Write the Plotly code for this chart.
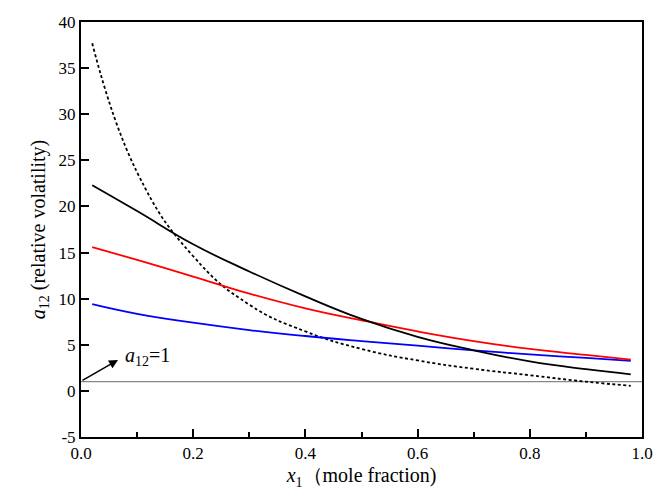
import plotly.graph_objects as go

x = [0.02, 0.1, 0.2, 0.3, 0.4, 0.5, 0.6, 0.7, 0.8, 0.9, 0.98]
black = [22.3, 19.5, 15.9, 12.95, 10.25, 7.8, 5.85, 4.4, 3.2, 2.35, 1.8]
red = [15.6, 14.2, 12.4, 10.55, 8.95, 7.65, 6.45, 5.4, 4.55, 3.9, 3.4]
blue = [9.4, 8.35, 7.4, 6.6, 5.95, 5.4, 4.9, 4.4, 3.95, 3.57, 3.25]
dotted = [37.7, 23.7, 14.6, 9.35, 6.45, 4.55, 3.3, 2.4, 1.7, 1.0, 0.55]

xticks = [0.0, 0.2, 0.4, 0.6, 0.8, 1.0]
yticks = [-5, 0, 5, 10, 15, 20, 25, 30, 35, 40]

font = "Times New Roman, Liberation Serif, serif"

fig = go.Figure()
fig.add_trace(go.Scatter(x=[0, 1], y=[1, 1], mode="lines",
                         line=dict(color="#888888", width=1.2), showlegend=False))
fig.add_trace(go.Scatter(x=x, y=dotted, mode="lines",
                         line=dict(color="black", width=1.8, dash="3px,2.5px",
                                   shape="spline", smoothing=1.3), showlegend=False))
fig.add_trace(go.Scatter(x=x, y=blue, mode="lines",
                         line=dict(color="#0000ff", width=1.8, shape="spline", smoothing=1.3),
                         showlegend=False))
fig.add_trace(go.Scatter(x=x, y=red, mode="lines",
                         line=dict(color="#ff0000", width=1.8, shape="spline", smoothing=1.3),
                         showlegend=False))
fig.add_trace(go.Scatter(x=x, y=black, mode="lines",
                         line=dict(color="black", width=1.8, shape="spline", smoothing=1.3),
                         showlegend=False))

fig.add_annotation(x=0.066, y=3.35, ax=0.0, ay=1.05, axref="x", ayref="y",
                   xref="x", yref="y", text="", showarrow=True,
                   arrowhead=2, arrowsize=1.2, arrowwidth=1.5, arrowcolor="black")
fig.add_annotation(x=0.075, y=3.7, xref="x", yref="y", xanchor="left",
                   text="<i>a</i><sub>12</sub>=1", showarrow=False,
                   font=dict(family=font, size=20, color="black"))

axis_common = dict(showgrid=False, zeroline=False, showline=True, linecolor="black",
                   linewidth=2, mirror=True, ticks="inside", ticklen=8, tickwidth=2,
                   tickcolor="black", automargin=False,
                   tickfont=dict(family=font, size=17, color="black"))

fig.update_xaxes(range=[0, 1.0], tickvals=xticks, ticktext=[f"{v:.1f}" for v in xticks],
                 minor=dict(ticks="inside", dtick=0.1, tick0=0, ticklen=5, tickwidth=2,
                            tickcolor="black"),
                 title=dict(text="<i>x</i><sub>1</sub>（mole fraction)",
                            font=dict(family=font, size=20, color="black"), standoff=6),
                 **axis_common)
fig.update_yaxes(range=[-5, 40], tickvals=yticks, ticktext=[str(v) for v in yticks],
                 title=dict(text="<i>a</i><sub>12</sub> (relative volatility)",
                            font=dict(family=font, size=20, color="black"), standoff=8),
                 **axis_common)

fig.update_layout(width=655, height=492, margin=dict(l=81, r=13, t=22, b=55),
                  plot_bgcolor="white", paper_bgcolor="white",
                  font=dict(family=font))
fig.write_html("out.html")
